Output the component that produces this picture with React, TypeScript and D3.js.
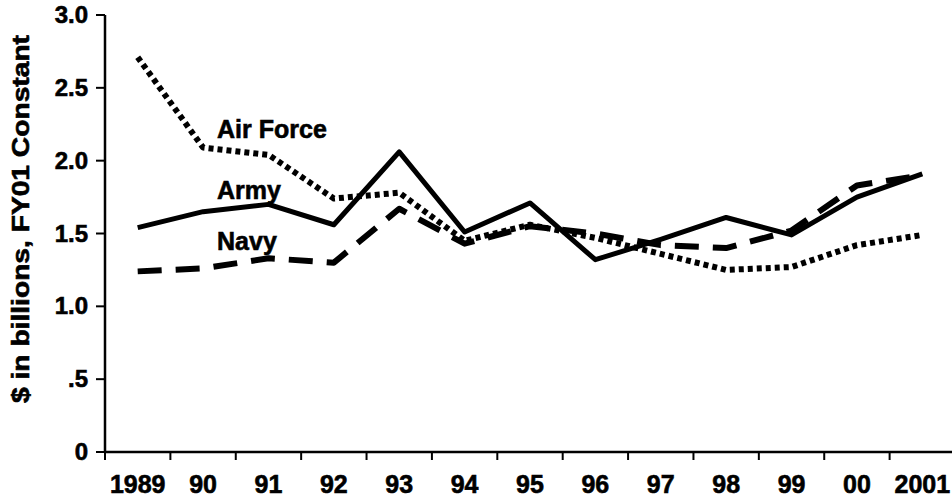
import React from "react"
import * as d3 from "d3"

const years = ["1989", "90", "91", "92", "93", "94", "95", "96", "97", "98", "99", "00", "2001"]
const airForce = [2.71, 2.09, 2.04, 1.74, 1.78, 1.45, 1.56, 1.47, 1.36, 1.25, 1.27, 1.42, 1.49]
const army = [1.54, 1.65, 1.70, 1.56, 2.06, 1.51, 1.71, 1.32, 1.46, 1.61, 1.49, 1.75, 1.91]
const navy = [1.24, 1.26, 1.33, 1.30, 1.67, 1.43, 1.55, 1.50, 1.42, 1.40, 1.52, 1.83, 1.90]
const yTicks = [0, 0.5, 1.0, 1.5, 2.0, 2.5, 3.0]
const yTickLabels = ["0", ".5", "1.0", "1.5", "2.0", "2.5", "3.0"]

const seriesList = [
    { name: "Air Force", values: airForce, dash: "5,4", width: 6, labelAt: 2.155 },
    { name: "Army", values: army, dash: "", width: 5, labelAt: 1.74 },
    { name: "Navy", values: navy, dash: "24,14", width: 6, labelAt: 1.385 },
]

const font = "'Liberation Sans', Arial, Helvetica, sans-serif"

export default function App() {
    const width = 952
    const height = 499
    const left = 105
    const bottom = 452

    const x = d3.scaleBand<string>().domain(years).range([left, 955])
    const y = d3.scaleLinear().domain([0, 3]).range([bottom, 15])
    const cx = (yr: string) => (x(yr) as number) + x.bandwidth() / 2

    const line = d3.line<number>()
        .x((d, i) => cx(years[i]))
        .y(d => y(d))

    return (
        <svg width={width} height={height} style={{ position: "absolute", left: 0, top: 0, background: "#fff" }}>
            <g fontFamily={font} fontWeight="bold" fill="#000" stroke="#000" strokeWidth={0.6}>
                {/* y axis */}
                <line x1={left} x2={left} y1={y(3)} y2={bottom} strokeWidth={2.5} />
                {yTicks.map((t, i) => (
                    <g key={t}>
                        <line x1={left - 9} x2={left} y1={y(t)} y2={y(t)} strokeWidth={2} />
                        <text x={left - 17} y={y(t) + 8} textAnchor="end" fontSize={24}>{yTickLabels[i]}</text>
                    </g>
                ))}
                <text
                    transform={`translate(29,${(35 + 403) / 2}) rotate(-90)`}
                    textAnchor="middle"
                    fontSize={23}
                    textLength={368}
                    lengthAdjust="spacingAndGlyphs"
                >$ in billions, FY01  Constant</text>

                {/* x axis */}
                <line x1={left} x2={width} y1={bottom} y2={bottom} strokeWidth={2.5} />
                {years.map(yr => (
                    <g key={yr}>
                        <line x1={x(yr)} x2={x(yr)} y1={bottom} y2={bottom + 8} strokeWidth={2} />
                        <text x={cx(yr)} y={493} textAnchor="middle" fontSize={25}>{yr}</text>
                    </g>
                ))}

                {/* series */}
                {seriesList.map(s => (
                    <g key={s.name}>
                        <path
                            d={line(s.values) || ""}
                            fill="none"
                            strokeWidth={s.width}
                            strokeDasharray={s.dash || undefined}
                            strokeLinejoin="round"
                        />
                        <text x={cx("90") + 14} y={y(s.labelAt)} fontSize={25}>{s.name}</text>
                    </g>
                ))}
            </g>
        </svg>
    )
}
